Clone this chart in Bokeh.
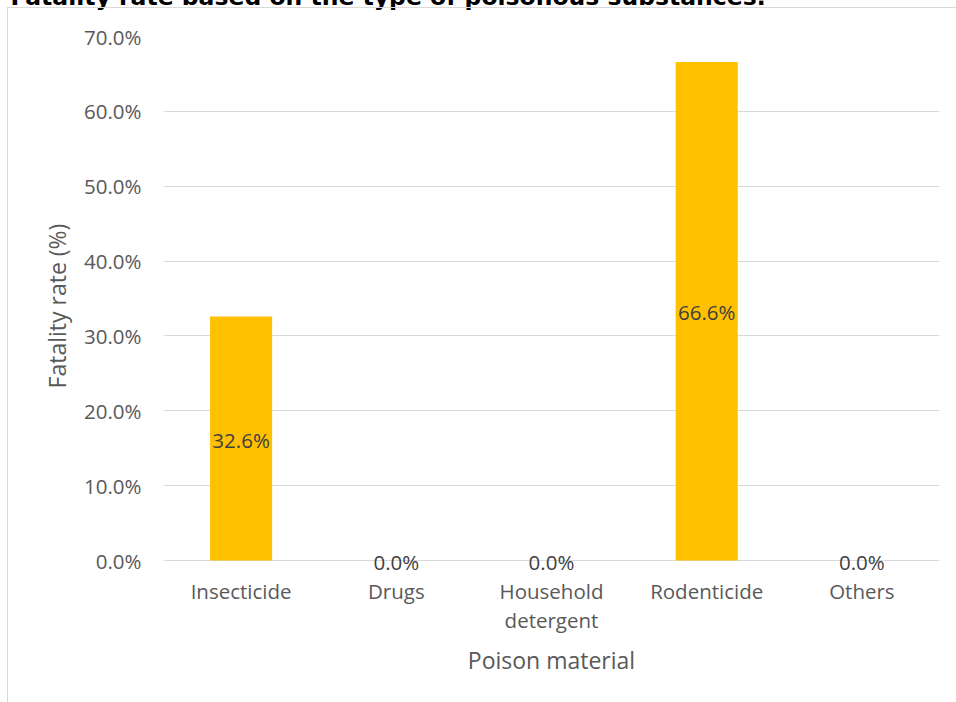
from bokeh.plotting import figure
from bokeh.models import (ColumnDataSource, Range1d, FixedTicker, NumeralTickFormatter,
                          LinearAxis, InlineStyleSheet)
from bokeh.core.properties import value
from bokeh.embed import file_html
from bokeh.resources import INLINE

# Fatality rate by poison material
materials = ["Insecticide", "Drugs", "Household detergent", "Rodenticide", "Others"]
fatality = [0.326, 0.0, 0.0, 0.666, 0.0]
y_ticks = [0.0, 0.1, 0.2, 0.3, 0.4, 0.5, 0.6, 0.7]
title_text = "Fatality rate based on the type of poisonous substances."

FONT = "Open Sans"
TEXT = "#595959"
GRID = "#d9d9d9"
BAR = "#FFC000"
SHIFT = 60          # canvas rows hidden above the page top (caption is cropped there)

# one slot per material, bars centred in their slot
slots = [i + 0.5 for i in range(len(materials))]

src = ColumnDataSource(dict(
    x=slots,
    rate=fatality,
    mid=[v / 2 for v in fatality],
    label=[f"{v * 100:.1f}%" for v in fatality],
))

p = figure(
    x_range=Range1d(0, len(materials)),
    y_range=Range1d(-0.02, 0.7),
    width=956, height=702 + SHIFT,
    output_backend="svg", toolbar_location=None,
    min_border_left=163, min_border_right=17,
    min_border_top=36 + SHIFT, min_border_bottom=127,
)
p.outline_line_color = None
p.background_fill_color = "white"
p.border_fill_color = "white"

p.vbar(x="x", top="rate", width=0.4, source=src,
       fill_color=BAR, line_color=None)

p.text(x="x", y="mid", text="label", source=src,
       text_align="center", text_baseline="middle", y_offset=1,
       text_font=value(FONT), text_font_size="20.5px", text_color="#404040")

# caption
p.title.text = title_text
p.title.text_font = "DejaVu Sans"
p.title.text_font_style = "bold"
p.title.text_font_size = "23.5px"
p.title.text_color = "black"
p.title.align = "left"
p.title.vertical_align = "bottom"
p.title.offset = -153
p.title.standoff = 51

# y axis
p.yaxis.ticker = FixedTicker(ticks=y_ticks)
p.yaxis.formatter = NumeralTickFormatter(format="0.0%")
p.yaxis.axis_line_color = None
p.yaxis.major_tick_line_color = None
p.yaxis.minor_tick_line_color = None
p.yaxis.major_tick_out = 0
p.yaxis.major_tick_in = 0
p.yaxis.major_label_standoff = 22
p.yaxis.major_label_text_font = FONT
p.yaxis.major_label_text_font_size = "20.5px"
p.yaxis.major_label_text_color = TEXT
p.yaxis.axis_label = "Fatality rate (%)"
p.yaxis.axis_label_text_font = FONT
p.yaxis.axis_label_text_font_size = "23px"
p.yaxis.axis_label_text_font_style = "normal"
p.yaxis.axis_label_text_color = TEXT
p.yaxis.axis_label_standoff = 8

# x axis, first label line
first_line = {s: m.split(" ")[0] for s, m in zip(slots, materials)}
second_line = {s: (" ".join(m.split(" ")[1:])) for s, m in zip(slots, materials)}

def style_x(ax, overrides, standoff):
    ax.ticker = FixedTicker(ticks=slots)
    ax.major_label_overrides = overrides
    ax.axis_line_color = None
    ax.major_tick_line_color = None
    ax.minor_tick_line_color = None
    ax.major_tick_out = 0
    ax.major_tick_in = 0
    ax.major_label_standoff = standoff
    ax.major_label_text_font = FONT
    ax.major_label_text_font_size = "20.5px"
    ax.major_label_text_color = TEXT

style_x(p.xaxis[0], first_line, 1)

# x axis, second label line and axis title
xb = LinearAxis()
style_x(xb, second_line, -2)
xb.axis_label = "Poison material"
xb.axis_label_text_font = FONT
xb.axis_label_text_font_size = "23px"
xb.axis_label_text_font_style = "normal"
xb.axis_label_text_color = TEXT
xb.axis_label_standoff = 7
p.add_layout(xb, "below")

p.xgrid.grid_line_color = None
p.ygrid.grid_line_color = GRID
p.ygrid.grid_line_width = 1

# page offset and chart area border
p.stylesheets = [InlineStyleSheet(css=f"""
:host {{ margin-top: -{SHIFT}px !important; }}
:host::after {{
  content: "";
  position: absolute;
  left: 7px; top: {SHIFT + 7}px; right: 0; bottom: 0;
  border-left: 1px solid #d9d9d9;
  border-top: 1px solid #d9d9d9;
  pointer-events: none;
  z-index: 10;
}}
""")]

open("out.html", "w").write(file_html(p, INLINE))
